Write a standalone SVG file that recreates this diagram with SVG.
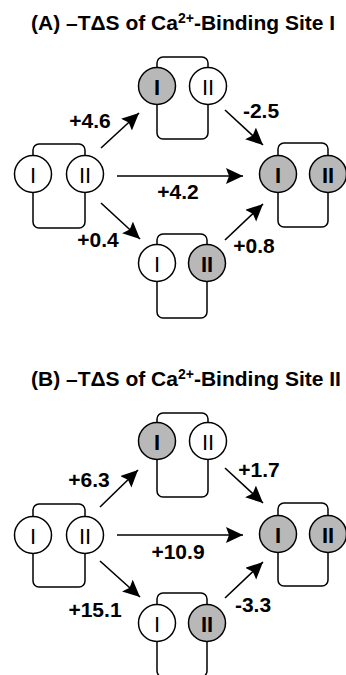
<svg xmlns="http://www.w3.org/2000/svg" width="346" height="675" viewBox="0 0 346 675">
<style>
.title{font-family:"Liberation Sans",Arial,sans-serif;font-weight:bold;font-size:21px;fill:#000}
.lbl{font-family:"Liberation Sans",Arial,sans-serif;font-weight:bold;font-size:21px;fill:#000;text-anchor:middle}
.num{font-family:"Liberation Sans",Arial,sans-serif;font-size:22px;fill:#000;text-anchor:middle;dominant-baseline:central}
.numb{font-family:"Liberation Sans",Arial,sans-serif;font-weight:bold;font-size:22px;fill:#000;text-anchor:middle;dominant-baseline:central}
.frame{fill:none;stroke:#000;stroke-width:1.5}
.empty{fill:#fff;stroke:#000;stroke-width:1.5}
.bound{fill:#b8b8b8;stroke:#000;stroke-width:1.5}
.arr{stroke:#000;stroke-width:1.6;fill:none;marker-end:url(#ah)}
</style>
<defs>
<marker id="ah" markerUnits="userSpaceOnUse" markerWidth="20" markerHeight="20" refX="17" refY="8" orient="auto" viewBox="0 0 20 20">
<path d="M0,0 L17,8 L0,16 L3,8 z" fill="#000"/>
</marker>
</defs>
<rect width="346" height="675" fill="#fff"/>

<text class="title" x="31" y="30">(A) –TΔS of Ca<tspan font-size="14" dy="-7">2+</tspan><tspan dy="7">-Binding Site I</tspan></text>
<text class="title" x="31" y="386">(B) –TΔS of Ca<tspan font-size="14" dy="-7">2+</tspan><tspan dy="7">-Binding Site II</tspan></text>

<g id="connectors">
<line class="arr" x1="101" y1="148" x2="139" y2="113"/>
<line class="arr" x1="225" y1="110" x2="263" y2="145"/>
<line class="arr" x1="117" y1="176" x2="243" y2="176"/>
<line class="arr" x1="101" y1="203" x2="140" y2="239"/>
<line class="arr" x1="225" y1="240" x2="263" y2="204"/>
<line class="arr" x1="100" y1="507" x2="138" y2="470"/>
<line class="arr" x1="225" y1="468" x2="263" y2="503"/>
<line class="arr" x1="117" y1="535" x2="243" y2="535"/>
<line class="arr" x1="100" y1="561" x2="140" y2="597"/>
<line class="arr" x1="225" y1="598" x2="263" y2="562"/>
</g>

<g id="labels">
<text class="lbl" x="90" y="128">+4.6</text>
<text class="lbl" x="261" y="118">-2.5</text>
<text class="lbl" x="178" y="199">+4.2</text>
<text class="lbl" x="98" y="247">+0.4</text>
<text class="lbl" x="254" y="253">+0.8</text>
<text class="lbl" x="89" y="487">+6.3</text>
<text class="lbl" x="259" y="477">+1.7</text>
<text class="lbl" x="178" y="559">+10.9</text>
<text class="lbl" x="95" y="617">+15.1</text>
<text class="lbl" x="253" y="612">-3.3</text>
</g>

<g id="A-top">
<rect class="frame" x="157" y="57" width="51" height="82" rx="6"/>
<circle class="bound" cx="157" cy="86" r="18.5"/><text class="numb" x="157" y="87">I</text>
<circle class="empty" cx="208" cy="86" r="18.5"/><text class="num" x="208" y="87">II</text>
</g>
<g id="A-left">
<rect class="frame" x="33" y="144" width="52" height="84" rx="6"/>
<circle class="empty" cx="33" cy="174" r="18.5"/><text class="num" x="33" y="175">I</text>
<circle class="empty" cx="85" cy="174" r="18.5"/><text class="num" x="85" y="175">II</text>
</g>
<g id="A-right">
<rect class="frame" x="278" y="143" width="50" height="84" rx="6"/>
<circle class="bound" cx="278" cy="174" r="18.5"/><text class="numb" x="278" y="175">I</text>
<circle class="bound" cx="328" cy="174" r="18.5"/><text class="numb" x="328" y="175">II</text>
</g>
<g id="A-bottom">
<rect class="frame" x="157" y="234" width="50" height="84" rx="6"/>
<circle class="empty" cx="157" cy="263" r="18.5"/><text class="num" x="157" y="264">I</text>
<circle class="bound" cx="207" cy="263" r="18.5"/><text class="numb" x="207" y="264">II</text>
</g>

<g id="B-top">
<rect class="frame" x="157" y="413" width="51" height="84" rx="6"/>
<circle class="bound" cx="157" cy="441" r="18.5"/><text class="numb" x="157" y="442">I</text>
<circle class="empty" cx="208" cy="441" r="18.5"/><text class="num" x="208" y="442">II</text>
</g>
<g id="B-left">
<rect class="frame" x="33" y="504" width="52" height="83" rx="6"/>
<circle class="empty" cx="33" cy="535" r="18.5"/><text class="num" x="33" y="536">I</text>
<circle class="empty" cx="85" cy="535" r="18.5"/><text class="num" x="85" y="536">II</text>
</g>
<g id="B-right">
<rect class="frame" x="278" y="503" width="50" height="83" rx="6"/>
<circle class="bound" cx="278" cy="534" r="18.5"/><text class="numb" x="278" y="535">I</text>
<circle class="bound" cx="328" cy="534" r="18.5"/><text class="numb" x="328" y="535">II</text>
</g>
<g id="B-bottom">
<rect class="frame" x="157" y="593" width="50" height="84" rx="6"/>
<circle class="empty" cx="157" cy="623" r="18.5"/><text class="num" x="157" y="624">I</text>
<circle class="bound" cx="207" cy="623" r="18.5"/><text class="numb" x="207" y="624">II</text>
</g>
</svg>
